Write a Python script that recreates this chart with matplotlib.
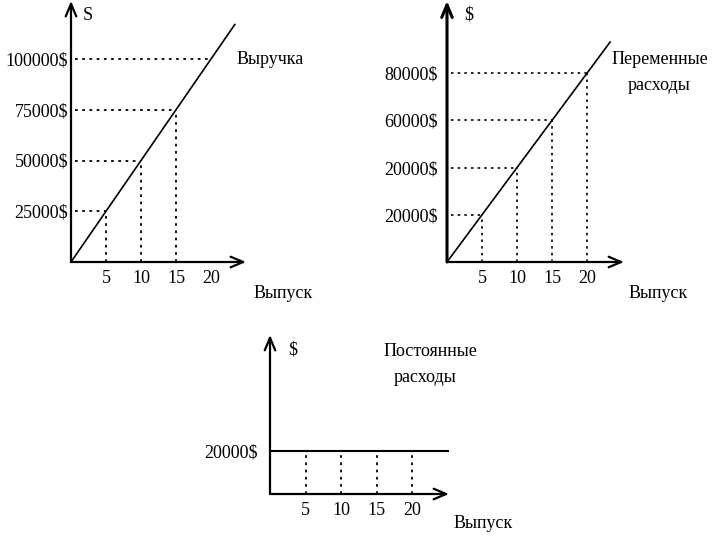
import matplotlib
matplotlib.use('Agg')
import matplotlib.pyplot as plt

# ---- data ----
p1_output = [5, 10, 15, 20]
p1_revenue = [25000, 50000, 75000, 100000]
p1_ylabels = ['25000$', '50000$', '75000$', '100000$']
p1_line_x = [0, 23.4]
p1_line_y = [0, 117000]

p2_output = [5, 10, 15, 20]
p2_varcost = [20000, 40000, 60000, 80000]
p2_ylabels = ['20000$', '20000$', '60000$', '80000$']
p2_line_x = [0, 23.3]
p2_line_y = [0, 93200]

p3_output = [5, 10, 15, 20]
p3_fixed = 20000
p3_ylabel = '20000$'
p3_line_x = [0, 25.3]

xtick_labels = ['5', '10', '15', '20']

W, H = 720, 540
FONT = 'Liberation Serif'
FS = 13
plt.rcParams['font.family'] = [FONT, 'DejaVu Serif']

fig = plt.figure(figsize=(7.2, 5.4), dpi=100)


def make_ax(ox, oy, sx, sy, xend_px, ytop_px, lw_y=1.6):
    ax = fig.add_axes([ox / W, (H - oy) / H, (xend_px - ox) / W, (oy - ytop_px) / H])
    ax.set_xlim(0, (xend_px - ox) / sx)
    ax.set_ylim(0, (oy - ytop_px) / sy)
    for s in ax.spines.values():
        s.set_visible(False)
    ax.patch.set_visible(False)
    ap = dict(arrowstyle='->,head_length=0.9,head_width=0.38', lw=1.6,
              color='black', shrinkA=0, shrinkB=0)
    ax.annotate('', xy=(1, 0), xytext=(0, 0), xycoords='axes fraction', arrowprops=ap)
    ap2 = dict(ap, lw=lw_y)
    ax.annotate('', xy=(0, 1), xytext=(0, 0), xycoords='axes fraction', arrowprops=ap2)
    ax.tick_params(length=0, labelsize=FS)
    return ax


dot = (0, (1.5, 2.5))

# Panel 1 : revenue
ax1 = make_ax(71, 262, 7.0, 203 / 100000, 246, 1)
ax1.plot(p1_line_x, p1_line_y, color='black', lw=1.2)
for x, y in zip(p1_output, p1_revenue):
    ax1.hlines(y, 0.5, x, colors='black', linestyles=dot, lw=1.3)
for x, y in zip(p1_output[:3], p1_revenue[:3]):
    ax1.vlines(x, 0, y, colors='black', linestyles=dot, lw=1.3)
ax1.set_xticks(p1_output, xtick_labels)
ax1.set_yticks(p1_revenue, p1_ylabels)
ax1.tick_params(axis='x', pad=6)
ax1.tick_params(axis='y', pad=2)

# Panel 2 : variable costs
ax2 = make_ax(447, 262, 7.0, 0.00236, 624, 1, lw_y=2.2)
ax2.plot(p2_line_x, p2_line_y, color='black', lw=1.2)
for x, y in zip(p2_output, p2_varcost):
    ax2.hlines(y, 0.5, x, colors='black', linestyles=dot, lw=1.2)
    ax2.vlines(x, 0, y, colors='black', linestyles=dot, lw=1.2)
ax2.set_xticks(p2_output, xtick_labels)
ax2.set_yticks(p2_varcost, p2_ylabels)
ax2.tick_params(axis='x', pad=6)
ax2.tick_params(axis='y', pad=7)

# Panel 3 : fixed costs
ax3 = make_ax(270, 494, 7.1, 43 / 20000, 449, 335)
ax3.plot(p3_line_x, [p3_fixed, p3_fixed], color='black', lw=1.5)
for x in p3_output:
    ax3.vlines(x, 0, p3_fixed, colors='black', linestyles=dot, lw=1.3)
ax3.set_xticks(p3_output, xtick_labels)
ax3.set_yticks([p3_fixed], [p3_ylabel])
ax3.tick_params(axis='x', pad=6)
ax3.tick_params(axis='y', pad=9)


def ftext(x, y, s, ha='center'):
    fig.text(x / W, 1 - y / H, s, ha=ha, va='center', fontsize=FS, family=FONT)


ftext(88, 15, 'S')
ftext(270, 60, 'Выручка')
ftext(283, 293, 'Выпуск')
ftext(469, 15, '$')
ftext(660, 60, 'Переменные')
ftext(659, 85, 'расходы')
ftext(658, 293, 'Выпуск')
ftext(293, 350, '$')
ftext(430, 352, 'Постоянные')
ftext(425, 377, 'расходы')
ftext(483, 523, 'Выпуск')

fig.savefig('out.png', dpi=100)
